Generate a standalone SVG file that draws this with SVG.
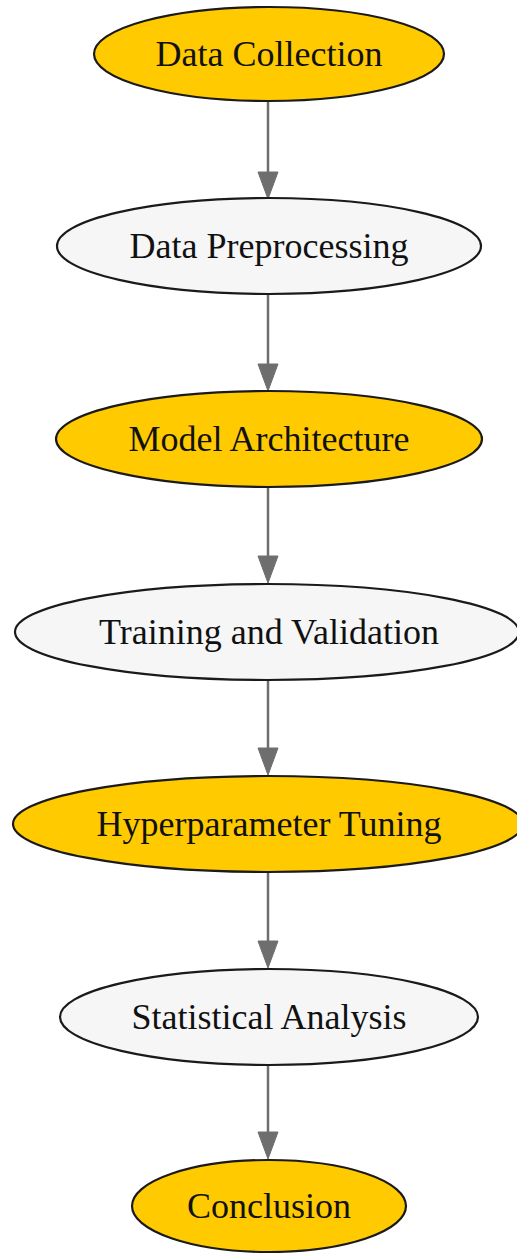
<svg xmlns="http://www.w3.org/2000/svg" width="517" height="1253" viewBox="0 0 517 1253">
<defs>
<style>
.n ellipse{stroke:#1a1a1a;stroke-width:2.2}
.y ellipse{fill:#FFCA00}
.w ellipse{fill:#F6F6F6}
.n text{font-family:"Liberation Serif","Times New Roman",serif;font-size:36px;fill:#111;text-anchor:middle}
.e line{stroke:#6e6e6e;stroke-width:2.5}
.e polygon{fill:#6e6e6e;stroke:#6e6e6e;stroke-width:1}
</style>
</defs>
<rect width="517" height="1253" fill="#ffffff"/>
<g id="connectors" class="e">
<line x1="268" y1="101" x2="268" y2="172"/><polygon points="258,172 278,172 268,199"/>
<line x1="268" y1="294" x2="268" y2="364"/><polygon points="258,364 278,364 268,391"/>
<line x1="268" y1="487" x2="268" y2="556"/><polygon points="258,556 278,556 268,583"/>
<line x1="268" y1="680" x2="268" y2="748"/><polygon points="258,748 278,748 268,775"/>
<line x1="268" y1="872" x2="268" y2="941"/><polygon points="258,941 278,941 268,968"/>
<line x1="268" y1="1065" x2="268" y2="1132"/><polygon points="258,1132 278,1132 268,1159"/>
</g>
<g id="n1" class="n y"><ellipse cx="269" cy="54" rx="175" ry="47"/><text x="269" y="66">Data Collection</text></g>
<g id="n2" class="n w"><ellipse cx="269" cy="246" rx="212" ry="48"/><text x="269" y="258">Data Preprocessing</text></g>
<g id="n3" class="n y"><ellipse cx="269" cy="439" rx="213" ry="48"/><text x="269" y="451">Model Architecture</text></g>
<g id="n4" class="n w"><ellipse cx="267" cy="632" rx="252" ry="48"/><text x="269" y="644">Training and Validation</text></g>
<g id="n5" class="n y"><ellipse cx="268" cy="824" rx="255" ry="48"/><text x="269" y="836">Hyperparameter Tuning</text></g>
<g id="n6" class="n w"><ellipse cx="269" cy="1017" rx="209" ry="48"/><text x="269" y="1029">Statistical Analysis</text></g>
<g id="n7" class="n y"><ellipse cx="269" cy="1206" rx="137" ry="46"/><text x="269" y="1218">Conclusion</text></g>
</svg>
